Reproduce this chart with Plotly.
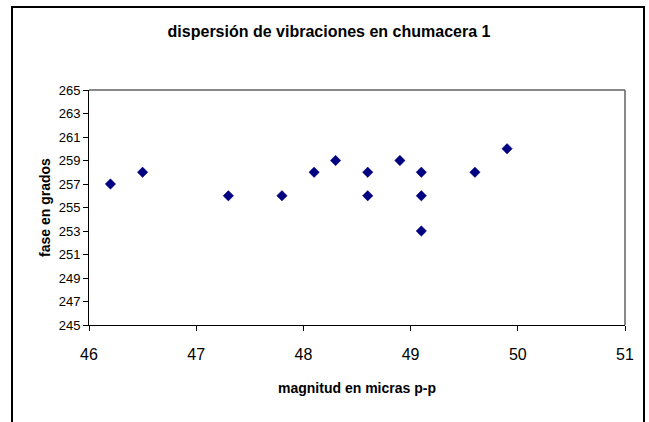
import plotly.graph_objects as go

magnitud = [46.2, 46.5, 47.3, 47.8, 48.1, 48.3, 48.6, 48.6, 48.9, 49.1, 49.1, 49.1, 49.6, 49.9]
fase = [257, 258, 256, 256, 258, 259, 258, 256, 259, 258, 256, 253, 258, 260]

title_text = "dispersión de vibraciones en chumacera 1"
x_title = "magnitud en micras p-p"
y_title = "fase en grados"

FONT = "Liberation Sans, Arial, sans-serif"

fig = go.Figure()
fig.add_trace(go.Scatter(
    x=magnitud, y=fase, mode="markers",
    marker=dict(symbol="diamond", size=8, color="#000080",
                line=dict(width=0.5, color="#000080")),
    showlegend=False, cliponaxis=False,
))

# geometry of the plot area in pixels
L, R, T, B = 89, 24, 90, 97
W, H = 649, 422
pw, ph = W - L - R, H - T - B

def px_x(px):
    return (px - L) / pw

def px_y(py):
    return (H - B - py) / ph

fig.update_layout(
    width=W, height=H,
    margin=dict(l=L, r=R, t=T, b=B, autoexpand=False),
    paper_bgcolor="white", plot_bgcolor="white",
    font=dict(family=FONT, color="black"),
    title=dict(text="<b>" + title_text + "</b>", x=329 / W, xref="container",
               xanchor="center", y=1 - 31 / H, yref="container", yanchor="middle",
               font=dict(size=16, family=FONT, color="black")),
    xaxis=dict(range=[46, 51], dtick=1, tick0=46, showgrid=False,
               zeroline=False, showline=True, linecolor="black", linewidth=1,
               ticks="outside", ticklen=5, tickcolor="black",
               ticklabelstandoff=10,
               tickfont=dict(size=16, family=FONT),
               title=dict(text="<b>" + x_title + "</b>", standoff=20,
                          font=dict(size=14, family=FONT))),
    yaxis=dict(range=[245, 265], dtick=2, tick0=245, showgrid=False,
               zeroline=False, showline=True, linecolor="black", linewidth=1,
               ticks="outside", ticklen=5, tickcolor="black",
               tickfont=dict(size=13, family=FONT),
               title=dict(text="<b>" + y_title + "</b>", standoff=4,
                          font=dict(size=14, family=FONT))),
    shapes=[
        # outer chart border
        dict(type="rect", xref="paper", yref="paper",
             x0=px_x(12), x1=px_x(644), y0=px_y(440), y1=px_y(7),
             line=dict(color="black", width=2), layer="below"),
        # plot area top / right border (gray)
        dict(type="line", xref="paper", yref="paper", x0=0, x1=1, y0=1, y1=1,
             line=dict(color="#606060", width=1.5)),
        dict(type="line", xref="paper", yref="paper", x0=1, x1=1, y0=0, y1=1,
             line=dict(color="#606060", width=1.5)),
    ],
)

fig.write_html(
    "out.html",
    config={"displayModeBar": False},
    post_script=(
        "document.body.style.margin='0px';"
        "document.body.style.overflow='hidden';"
        "document.documentElement.style.overflow='hidden';"
    ),
)
